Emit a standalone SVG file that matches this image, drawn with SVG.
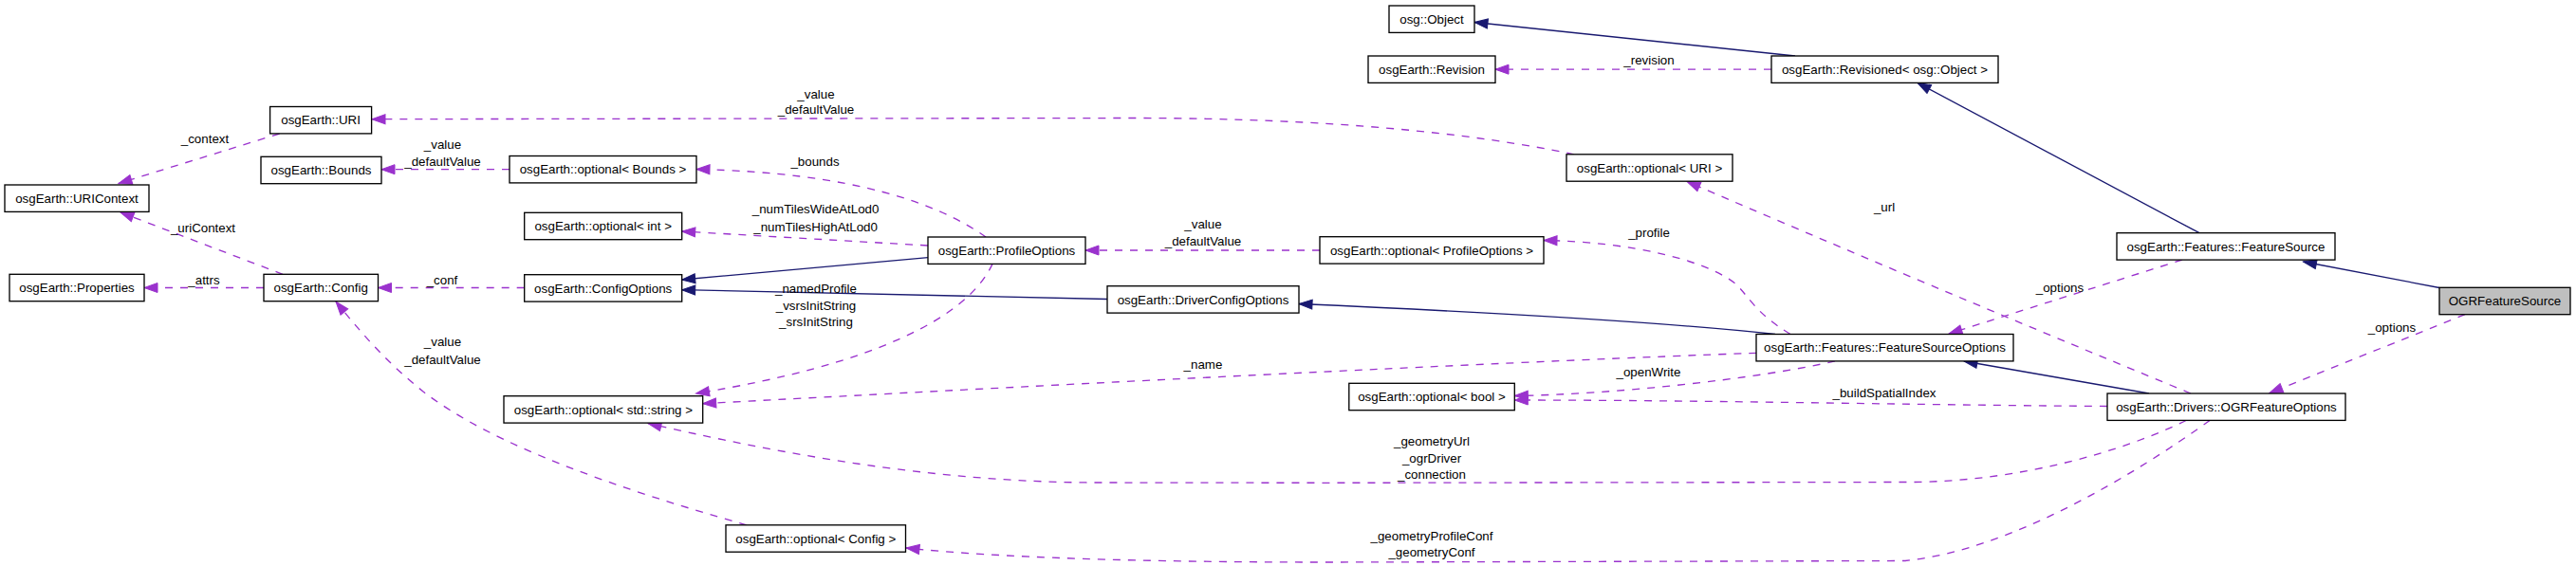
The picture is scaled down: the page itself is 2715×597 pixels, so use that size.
<svg xmlns="http://www.w3.org/2000/svg" width="2715" height="597" viewBox="0 0 2715 597">
<style>
text{font-family:"Liberation Sans",Arial,sans-serif;font-size:13.33px;fill:#000}
.node text{text-anchor:middle}
.node rect{fill:#fff;stroke:#000;stroke-width:1.33}
.node rect.cur{fill:#bfbfbf}
.lbl{text-anchor:middle}
.inh{fill:none;stroke:#191970;stroke-width:1.33;marker-end:url(#ab)}
.use{fill:none;stroke:#9a32cd;stroke-width:1.33;stroke-dasharray:8,8;marker-end:url(#ap)}
</style>
<defs>
<marker id="ab" markerUnits="userSpaceOnUse" markerWidth="16" markerHeight="12" refX="14" refY="5" orient="auto" overflow="visible"><path d="M0,0 L14,5 L0,10 Z" fill="#191970" stroke="#191970" stroke-width="1"/></marker>
<marker id="ap" markerUnits="userSpaceOnUse" markerWidth="16" markerHeight="12" refX="14" refY="5" orient="auto" overflow="visible"><path d="M0,0 L14,5 L0,10 Z" fill="#9a32cd" stroke="#9a32cd" stroke-width="1"/></marker>
</defs>
<rect width="2715" height="597" fill="#fff"/>
<g id="connectors">
<path class="inh" d="M1892,59 L1554,23.5"/>
<path class="use" d="M1867,73.2 L1576,73.2"/>
<path class="inh" d="M2318,245.7 L2021,87.5"/>
<path class="inh" d="M2571,303.5 L2427.5,276"/>
<path class="use" d="M2598,331.7 L2392,414.5"/>
<path class="use" d="M2300,274 L2054,352"/>
<path class="inh" d="M2265,415 L2070,381"/>
<path class="inh" d="M1871,352.5 Q1720,336 1369,320.5"/>
<path class="inh" d="M1167,315.5 L718.7,305.7"/>
<path class="inh" d="M978,271.7 L718.7,295"/>
<path class="use" d="M552.7,303.5 L398.5,303.5"/>
<path class="use" d="M278,303.5 L152,303.5"/>
<path class="use" d="M298,289.3 L127,224"/>
<path class="use" d="M294.6,141 L125,193.5"/>
<path class="use" d="M537,178.7 L402,178.7"/>
<path class="use" d="M1039,250 C990,215 900,182 734,178.5"/>
<path class="use" d="M978,259 L718.7,244"/>
<path class="use" d="M1046,278.4 C1020,335 920,385 733.5,415"/>
<path class="use" d="M1391,264 L1144,264"/>
<path class="use" d="M1887,352.5 C1850,330 1845,315 1830,300 C1800,275 1720,255 1627,253.5"/>
<path class="use" d="M1851,372.3 Q1500,385 740.7,425.7"/>
<path class="use" d="M1934,380.9 C1850,400 1700,416 1596.3,417.5"/>
<path class="use" d="M2221,428.5 C2000,427 1800,422 1596.3,422"/>
<path class="use" d="M2309,415 Q2030,300 1778,191.5"/>
<path class="use" d="M2304,443.5 C2240,475 2130,508 2014,508.5 L1400,509.3 L1150,509 C1000,508 850,485 683,446.5"/>
<path class="use" d="M2329,443.5 C2250,500 2120,580 2008,591.5 L1400,593 C1200,593 1050,588 955,578"/>
<path class="use" d="M787,553.8 C650,515 520,470 446,413 C405,380 380,350 354,318.2"/>
<path class="use" d="M1659,162.8 C1550,140 1400,125 1200,124.5 L392,125.7"/>
</g>
<g id="labels">
<text class="lbl" x="1738" y="68">_revision</text>
<text class="lbl" x="1986" y="222.5">_url</text>
<text class="lbl" x="1738" y="249.5">_profile</text>
<text class="lbl" x="2171" y="307.5">_options</text>
<text class="lbl" x="2521" y="349.5">_options</text>
<text class="lbl" x="1986" y="419">_buildSpatialIndex</text>
<text class="lbl" x="1737.5" y="396.5">_openWrite</text>
<text class="lbl" x="1268" y="388.8">_name</text>
<text class="lbl" x="1509" y="470.2">_geometryUrl</text>
<text class="lbl" x="1509" y="487.8">_ogrDriver</text>
<text class="lbl" x="1509" y="504.5">_connection</text>
<text class="lbl" x="1509" y="569.8">_geometryProfileConf</text>
<text class="lbl" x="1509" y="587.2">_geometryConf</text>
<text class="lbl" x="860" y="103.5">_value</text>
<text class="lbl" x="860" y="120.2">_defaultValue</text>
<text class="lbl" x="1268" y="241.2">_value</text>
<text class="lbl" x="1268" y="259.2">_defaultValue</text>
<text class="lbl" x="466.5" y="157.2">_value</text>
<text class="lbl" x="466.5" y="175.2">_defaultValue</text>
<text class="lbl" x="466.5" y="365.2">_value</text>
<text class="lbl" x="466.5" y="383.5">_defaultValue</text>
<text class="lbl" x="859" y="175.2">_bounds</text>
<text class="lbl" x="859.6" y="225.2">_numTilesWideAtLod0</text>
<text class="lbl" x="859.6" y="243.5">_numTilesHighAtLod0</text>
<text class="lbl" x="860" y="308.5">_namedProfile</text>
<text class="lbl" x="860" y="326.8">_vsrsInitString</text>
<text class="lbl" x="860" y="344.2">_srsInitString</text>
<text class="lbl" x="466" y="299.5">_conf</text>
<text class="lbl" x="215" y="299.5">_attrs</text>
<text class="lbl" x="214" y="244.5">_uriContext</text>
<text class="lbl" x="216" y="151.2">_context</text>
</g>
<g id="n_object" class="node"><rect x="1464" y="6" width="90" height="28.4"/><text x="1509" y="24.9">osg::Object</text></g>
<g id="n_revision" class="node"><rect x="1442" y="59" width="134" height="28.4"/><text x="1509" y="77.9">osgEarth::Revision</text></g>
<g id="n_revisioned" class="node"><rect x="1867" y="59" width="239" height="28.4"/><text x="1986.5" y="77.9">osgEarth::Revisioned&lt; osg::Object &gt;</text></g>
<g id="n_uri" class="node"><rect x="284.6" y="112.5" width="107" height="28.4"/><text x="338.1" y="131.4">osgEarth::URI</text></g>
<g id="n_optURI" class="node"><rect x="1651" y="162.8" width="175" height="28.4"/><text x="1738.5" y="181.7">osgEarth::optional&lt; URI &gt;</text></g>
<g id="n_bounds" class="node"><rect x="275" y="165.3" width="127" height="28.4"/><text x="338.5" y="184.2">osgEarth::Bounds</text></g>
<g id="n_optBounds" class="node"><rect x="537" y="164.5" width="197" height="28.4"/><text x="635.5" y="183.4">osgEarth::optional&lt; Bounds &gt;</text></g>
<g id="n_uricontext" class="node"><rect x="5" y="195" width="152" height="28.4"/><text x="81" y="213.9">osgEarth::URIContext</text></g>
<g id="n_optInt" class="node"><rect x="552.7" y="224.3" width="166" height="28.4"/><text x="635.7" y="243.2">osgEarth::optional&lt; int &gt;</text></g>
<g id="n_featuresource" class="node"><rect x="2231" y="245.7" width="230" height="28.4"/><text x="2346" y="264.6">osgEarth::Features::FeatureSource</text></g>
<g id="n_profileoptions" class="node"><rect x="978" y="250" width="166" height="28.4"/><text x="1061" y="268.9">osgEarth::ProfileOptions</text></g>
<g id="n_optProfile" class="node"><rect x="1391" y="249.7" width="236" height="28.4"/><text x="1509" y="268.6">osgEarth::optional&lt; ProfileOptions &gt;</text></g>
<g id="n_properties" class="node"><rect x="10" y="289.3" width="142" height="28.4"/><text x="81" y="308.2">osgEarth::Properties</text></g>
<g id="n_config" class="node"><rect x="278" y="289.3" width="120.5" height="28.4"/><text x="338.2" y="308.2">osgEarth::Config</text></g>
<g id="n_configoptions" class="node"><rect x="552.7" y="289.7" width="166" height="28.4"/><text x="635.7" y="308.6">osgEarth::ConfigOptions</text></g>
<g id="n_driverconfig" class="node"><rect x="1167" y="301.7" width="202" height="28.4"/><text x="1268" y="320.6">osgEarth::DriverConfigOptions</text></g>
<g id="n_ogrfs" class="node"><rect class="cur" x="2571" y="303.3" width="138" height="28.4"/><text x="2640" y="322.2">OGRFeatureSource</text></g>
<g id="n_fso" class="node"><rect x="1851" y="352.5" width="271" height="28.4"/><text x="1986.5" y="371.4">osgEarth::Features::FeatureSourceOptions</text></g>
<g id="n_optBool" class="node"><rect x="1421.8" y="404.3" width="174.5" height="28.4"/><text x="1509" y="423.2">osgEarth::optional&lt; bool &gt;</text></g>
<g id="n_ogrfo" class="node"><rect x="2221" y="415" width="251" height="28.4"/><text x="2346.5" y="433.9">osgEarth::Drivers::OGRFeatureOptions</text></g>
<g id="n_optString" class="node"><rect x="531" y="417.7" width="209.7" height="28.4"/><text x="635.9" y="436.6">osgEarth::optional&lt; std::string &gt;</text></g>
<g id="n_optConfig" class="node"><rect x="765" y="553.8" width="189.5" height="28.4"/><text x="859.8" y="572.7">osgEarth::optional&lt; Config &gt;</text></g>
</svg>
